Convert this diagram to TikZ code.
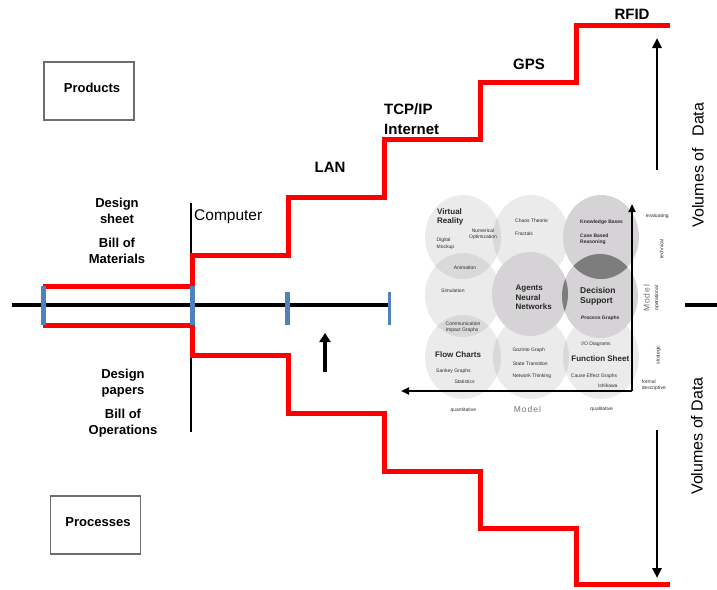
\documentclass[tikz,border=0pt]{standalone}
\usepackage{fontspec}
\setmainfont{Liberation Sans}
\usetikzlibrary{arrows.meta}

\definecolor{stair}{RGB}{255,0,0}
\definecolor{tickblue}{RGB}{79,129,189}
\definecolor{circdark}{RGB}{214,211,214}
\definecolor{lensdark}{RGB}{125,125,125}
\definecolor{smalltxt}{RGB}{45,45,45}
\definecolor{axislabel}{RGB}{115,115,115}
\definecolor{boxline}{RGB}{110,110,110}

\tikzset{
  stairline/.style={draw=stair, line width=5pt, line join=miter},
  timeline/.style={draw=black, line width=4.5pt},
  tickmark/.style={draw=tickblue, line width=5pt},
  eraline/.style={draw=black, line width=1.1pt},
  bigarrow/.style={draw=black, line width=2.6pt, -{Triangle[length=10pt,width=9pt]}},
  axisarrow/.style={draw=black, line width=2pt},
  itembox/.style={draw=boxline, line width=1.2pt, minimum width=90pt, minimum height=58pt, inner sep=0pt},
  boxlabel/.style={font=\bfseries\fontsize{13}{15}\selectfont, inner sep=0pt},
  techlabel/.style={font=\bfseries\fontsize{15}{18}\selectfont, inner sep=0pt},
  doclabel/.style={font=\bfseries\fontsize{13}{15.5}\selectfont, align=center, inner sep=0pt},
  volumelabel/.style={font=\fontsize{16}{18}\selectfont, rotate=90, inner sep=0pt},
  lightcirc/.style={fill=black, fill opacity=0.08},
  darkcirc/.style={fill=circdark},
  bigtxt/.style={font=\bfseries\fontsize{8}{9.5}\selectfont, text=black!85, inner sep=0pt},
  tinytxt/.style={font=\fontsize{5}{6.3}\selectfont, text=smalltxt, inner sep=0pt},
  tinybold/.style={font=\bfseries\fontsize{5}{6.3}\selectfont, text=smalltxt, inner sep=0pt},
  modeltxt/.style={font=\fontsize{8.5}{10}\selectfont\addfontfeature{LetterSpace=12}, text=axislabel, inner sep=0pt},
}

\begin{document}
\begin{tikzpicture}[x=1pt,y=-1pt]
\useasboundingbox (0,0) rectangle (717,589);

% ---------------- products / processes boxes ----------------
\node[itembox] (products) at (89,91) {};
\node[boxlabel] (productstext) at (92,88) {Products};
\node[itembox] (processes) at (95.5,525) {};
\node[boxlabel] (processestext) at (98,522) {Processes};

% ---------------- document labels ----------------
\node[doclabel] (designsheet) at (117,211) {Design\\sheet};
\node[doclabel] (bom) at (117,251) {Bill of\\Materials};
\node[doclabel] (designpapers) at (123,383) {Design\\papers};
\node[doclabel] (boo) at (123,423) {Bill of\\Operations};

% ---------------- computer era marker ----------------
\coordinate (eratop) at (191,203);
\coordinate (erabottom) at (191,432);
\draw[eraline] (eratop) -- (erabottom);

% ---------------- time line ----------------
\coordinate (tlstart) at (12,305);
\coordinate (tlend) at (390,305);
\draw[timeline] (tlstart) -- (tlend);
\coordinate (tlright) at (685,305);
\coordinate (tlrightend) at (717,305);
\draw[timeline] (tlright) -- (tlrightend);

% ---------------- staircases ----------------
\draw[stairline] (43,286) -- (192,286) -- (192,255) -- (288,255) -- (288,197)
  -- (384,197) -- (384,139) -- (480,139) -- (480,82) -- (576,82) -- (576,25) -- (670,25);
\draw[stairline] (43,325) -- (192,325) -- (192,355) -- (288,355) -- (288,413)
  -- (384,413) -- (384,471) -- (480,471) -- (480,528) -- (576,528) -- (576,584) -- (670,584);

% ---------------- ticks on the time line ----------------
\draw[tickmark] (43,286) -- (43,325);
\draw[tickmark] (192,286) -- (192,325);
\draw[tickmark] (287,292) -- (287,325);
\draw[tickmark, line width=3pt] (389,292) -- (389,325);

% ---------------- technology labels ----------------
\node[techlabel, anchor=west, font=\fontsize{15.5}{18}\selectfont] (computer) at (194,217) {Computer};
\node[techlabel] (lan) at (330,167) {LAN};
\node[techlabel, anchor=west, align=left, font=\bfseries\fontsize{15}{19.5}\selectfont] (internet) at (384,119) {TCP/IP\\Internet};
\node[techlabel] (gps) at (529,64) {GPS};
\node[techlabel] (rfid) at (632,14) {RFID};

% ---------------- arrows ----------------
\coordinate (nowtail) at (325,372);
\coordinate (nowtip) at (325,333);
\draw[bigarrow, line width=4pt, -{Triangle[length=9pt,width=11pt]}] (nowtail) -- (nowtip);

\coordinate (uptail) at (657,170);
\coordinate (uptip) at (657,38);
\draw[bigarrow] (uptail) -- (uptip);
\coordinate (downtail) at (657,430);
\coordinate (downtip) at (657,578);
\draw[bigarrow] (downtail) -- (downtip);

\node[volumelabel] (volup) at (698,165) {Volumes of\hspace{0.45em} Data};
\node[volumelabel] (voldown) at (697,436) {Volumes of Data};

% ---------------- model portfolio ----------------
\def\rx{38}
\def\ry{42}
\coordinate (c11) at (463,237);
\coordinate (c12) at (531,237);
\coordinate (c13) at (601,237);
\coordinate (c21) at (463,295);
\coordinate (c22) at (530,294);
\coordinate (c23) at (600,296);
\coordinate (c31) at (463,357);
\coordinate (c32) at (531,357);
\coordinate (c33) at (601,357);

\foreach \c in {c11,c12,c21,c31,c32,c33}
  \fill[lightcirc] (\c) ellipse [x radius=\rx, y radius=\ry];
\foreach \c in {c22,c13,c23}
  \fill[darkcirc] (\c) ellipse [x radius=\rx, y radius=\ry];
\begin{scope}
  \clip (c22) ellipse [x radius=\rx, y radius=\ry];
  \fill[lensdark] (c23) ellipse [x radius=\rx, y radius=\ry];
\end{scope}
\begin{scope}
  \clip (c13) ellipse [x radius=\rx, y radius=\ry];
  \fill[lensdark] (c23) ellipse [x radius=\rx, y radius=\ry];
\end{scope}

% axes of the portfolio
\coordinate (porigin) at (632,391);
\coordinate (pytip) at (632,204);
\coordinate (pxtip) at (401,391);
\draw[axisarrow, -{Triangle[length=8pt,width=7pt]}] (porigin) -- (pytip);
\draw[axisarrow, -{Triangle[length=8pt,width=7pt]}] (porigin) -- (pxtip);

% texts inside the circles
\node[bigtxt, anchor=west, align=left] (vr) at (437,217) {Virtual\\Reality};
\node[tinytxt, align=center] (numopt) at (483,234) {Numerical\\Optimization};
\node[tinytxt, anchor=west, align=left] (mockup) at (436.5,243.7) {Digital\\Mockup};
\node[tinytxt, anchor=west] (chaos) at (515,220.7) {Chaos Theorie};
\node[tinytxt, anchor=west] (fractals) at (515,233.3) {Fractals};
\node[tinybold, anchor=west] (kb) at (580,222.7) {Knowledge Bases};
\node[tinybold, anchor=west, align=left] (cbr) at (580,239) {Case Based\\Reasoning};
\node[tinytxt] (animation) at (465,267.3) {Animation};
\node[tinytxt, anchor=west] (simulation) at (441,291) {Simulation};
\node[bigtxt, anchor=west, align=left] (agents) at (515.5,297.5) {Agents\\Neural\\Networks};
\node[bigtxt, anchor=west, align=left, font=\bfseries\fontsize{8.5}{9.5}\selectfont] (decision) at (580,296.2) {Decision\\Support};
\node[tinybold] (procgraphs) at (600.3,318.7) {Process Graphs};
\node[tinytxt, anchor=west, align=left] (comm) at (445.5,327.5) {Communication\\Impact Graphs};
\node[bigtxt, anchor=west] (flow) at (435,355) {Flow Charts};
\node[tinytxt, anchor=west] (sankey) at (436,371) {Sankey Graphs};
\node[tinytxt, anchor=west] (stats) at (454.3,382) {Statistics};
\node[tinytxt, anchor=west] (gozinto) at (512.3,350) {Gozinto Graph};
\node[tinytxt, anchor=west] (state) at (512.7,363.3) {State Transition};
\node[tinytxt, anchor=west] (netthink) at (512.3,376.7) {Network Thinking};
\node[tinytxt] (io) at (596,344) {I/O Diagrams};
\node[bigtxt] (function) at (600.3,358.3) {Function Sheet};
\node[tinytxt, anchor=west] (cause) at (570.7,376.7) {Cause Effect Graphs};
\node[tinytxt, anchor=east] (ishikawa) at (617.7,386) {Ishikawa};

% axis labels of the portfolio
\node[tinytxt] (evaluating) at (657.2,216.7) {evaluating};
\node[tinytxt, rotate=90] (technical) at (661.7,249) {technical};
\node[modeltxt, rotate=90] (modely) at (646.7,298.3) {Model};
\node[tinytxt, rotate=90] (operational) at (656.7,298) {operational};
\node[tinytxt, rotate=90] (strategic) at (658.3,355) {strategic};
\node[tinytxt, anchor=west, align=left] (formal) at (641.7,385) {formal\\descriptive};
\node[tinytxt] (quant) at (463.3,410) {quantitative};
\node[modeltxt] (modelx) at (527.5,409.3) {Model};
\node[tinytxt] (qual) at (601.7,409) {qualitative};

\end{tikzpicture}
\end{document}
